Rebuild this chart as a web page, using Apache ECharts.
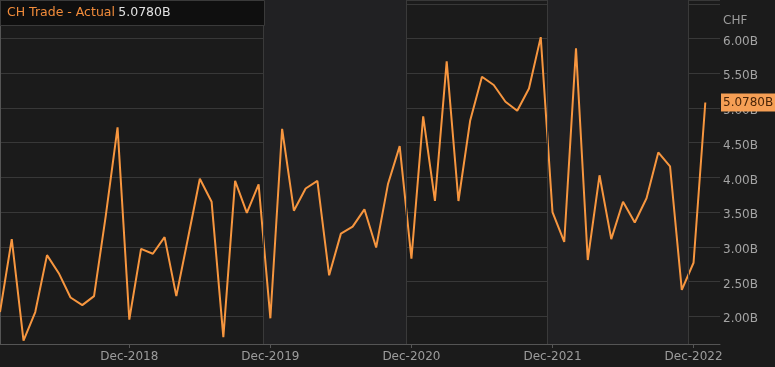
<!DOCTYPE html>
<html>
<head>
<meta charset="utf-8">
<script src="https://cdn.jsdelivr.net/npm/echarts@6/dist/echarts.min.js"></script>
<style>
html,body{margin:0;padding:0;background:#1b1b1b;}
#chart{width:775px;height:367px;}
</style>
</head>
<body>
<div id="chart"></div>
<script>
// Monthly CH trade balance, Jan-2018 .. Jan-2023 (CHF billions)
const months = ['Jan-2018','Feb-2018','Mar-2018','Apr-2018','May-2018','Jun-2018','Jul-2018','Aug-2018','Sep-2018','Oct-2018','Nov-2018','Dec-2018',
  'Jan-2019','Feb-2019','Mar-2019','Apr-2019','May-2019','Jun-2019','Jul-2019','Aug-2019','Sep-2019','Oct-2019','Nov-2019','Dec-2019',
  'Jan-2020','Feb-2020','Mar-2020','Apr-2020','May-2020','Jun-2020','Jul-2020','Aug-2020','Sep-2020','Oct-2020','Nov-2020','Dec-2020',
  'Jan-2021','Feb-2021','Mar-2021','Apr-2021','May-2021','Jun-2021','Jul-2021','Aug-2021','Sep-2021','Oct-2021','Nov-2021','Dec-2021',
  'Jan-2022','Feb-2022','Mar-2022','Apr-2022','May-2022','Jun-2022','Jul-2022','Aug-2022','Sep-2022','Oct-2022','Nov-2022','Dec-2022',
  'Jan-2023'];
const actual = [2.06, 3.11, 1.65, 2.06, 2.88, 2.62, 2.27, 2.16, 2.29, 3.45, 4.72, 1.95,
  2.97, 2.90, 3.14, 2.29, 3.13, 3.98, 3.65, 1.70, 3.95, 3.49, 3.90, 1.97,
  4.70, 3.52, 3.84, 3.95, 2.59, 3.19, 3.29, 3.54, 2.99, 3.90, 4.45, 2.83,
  4.88, 3.66, 5.67, 3.66, 4.82, 5.45, 5.33, 5.09, 4.96, 5.28, 6.02, 3.50,
  3.07, 5.86, 2.81, 4.03, 3.11, 3.65, 3.35, 3.70, 4.36, 4.16, 2.38, 2.77,
  5.078];
const tickIndex = [11, 23, 35, 47, 59];
const tickLabels = ['Dec-2018', 'Dec-2019', 'Dec-2020', 'Dec-2021', 'Dec-2022'];
const bandEdges = [22.4, 34.55, 46.55, 58.55];
const lastValueLabel = '5.0780B';
const seriesName = 'CH Trade - Actual';
const unitName = 'CHF';

const FONT = 'DejaVu Sans';
const chart = echarts.init(document.getElementById('chart'), null, {renderer: 'canvas'});
const data = actual.map((v, i) => [i, v]);

const baseGraphic = [
  {id: 'legendBox', type: 'rect', left: 0, top: 0, z: 100, shape: {x: 0, y: 0, width: 264, height: 25},
   style: {fill: '#0f0f0f', stroke: '#3a3a3a', lineWidth: 1}},
  {id: 'legendText', type: 'text', left: 7, top: 6, z: 101,
   style: {text: '{a|' + seriesName + '} {b|' + lastValueLabel + '}',
     rich: {a: {fill: '#f28c3b', fontSize: 12.5, fontFamily: FONT},
            b: {fill: '#e2e2e2', fontSize: 12.5, fontFamily: FONT}}}},
  {id: 'unit', type: 'text', left: 723, top: 15, z: 101,
   style: {text: unitName, fill: '#9c9c9c', fontSize: 12, fontFamily: FONT}}
];

chart.setOption({
  backgroundColor: '#1b1b1b',
  animation: false,
  grid: {left: 0, right: 55, top: 0, bottom: 23, containLabel: false},
  xAxis: {
    type: 'value', min: 0, max: 61.25,
    axisLine: {show: true, lineStyle: {color: '#555555', width: 1}},
    axisTick: {show: true, customValues: tickIndex, length: 4, lineStyle: {color: '#555555'}},
    axisLabel: {
      customValues: tickIndex,
      formatter: v => tickLabels[tickIndex.indexOf(Math.round(v))] || '',
      color: '#9c9c9c', fontSize: 12, fontFamily: FONT, margin: 7
    },
    splitLine: {show: false}
  },
  yAxis: {
    type: 'value', position: 'right', min: 1.6, max: 6.555,
    splitNumber: 10, minInterval: 0.5, maxInterval: 0.5,
    axisLine: {show: true, lineStyle: {color: '#555555'}},
    axisTick: {show: false},
    axisLabel: {
      formatter: v => (v > 6.2 || v < 1.9) ? '' : v.toFixed(2) + 'B',
      color: '#a4a4a4', fontSize: 12, fontFamily: FONT, margin: 3,
      verticalAlign: 'top', lineHeight: 6
    },
    splitLine: {show: true, lineStyle: {color: '#383838', width: 1}}
  },
  graphic: baseGraphic,
  series: [{
    name: seriesName,
    type: 'line',
    data: data,
    showSymbol: false,
    lineStyle: {color: '#f7963f', width: 2},
    itemStyle: {color: '#f7963f'},
    markArea: {
      silent: true,
      itemStyle: {color: '#212123'},
      data: [
        [{xAxis: bandEdges[0]}, {xAxis: bandEdges[1]}],
        [{xAxis: bandEdges[2]}, {xAxis: bandEdges[3]}]
      ]
    },
    markLine: {
      silent: true, symbol: 'none', animation: false,
      data: bandEdges.map(b => ({xAxis: b, lineStyle: {color: '#3a3a3a', width: 1, type: 'solid'}, label: {show: false}}))
    }
  }]
});

// last-value tag, positioned through the y axis scale
const lastVal = actual[actual.length - 1];
const tagY = chart.convertToPixel({yAxisIndex: 0}, lastVal);
const tagX = chart.convertToPixel({xAxisIndex: 0}, 61.25);
chart.setOption({
  graphic: [
    {id: 'tagBox', type: 'rect', z: 110, shape: {x: tagX + 1, y: tagY - 9, width: 55, height: 18},
     style: {fill: '#f69f55'}},
    {id: 'tagText', type: 'text', z: 111, x: tagX + 3, y: tagY,
     style: {text: lastValueLabel, fill: '#4a2508', fontSize: 12, fontFamily: FONT, verticalAlign: 'middle', align: 'left'}}
  ]
});
</script>
</body>
</html>
